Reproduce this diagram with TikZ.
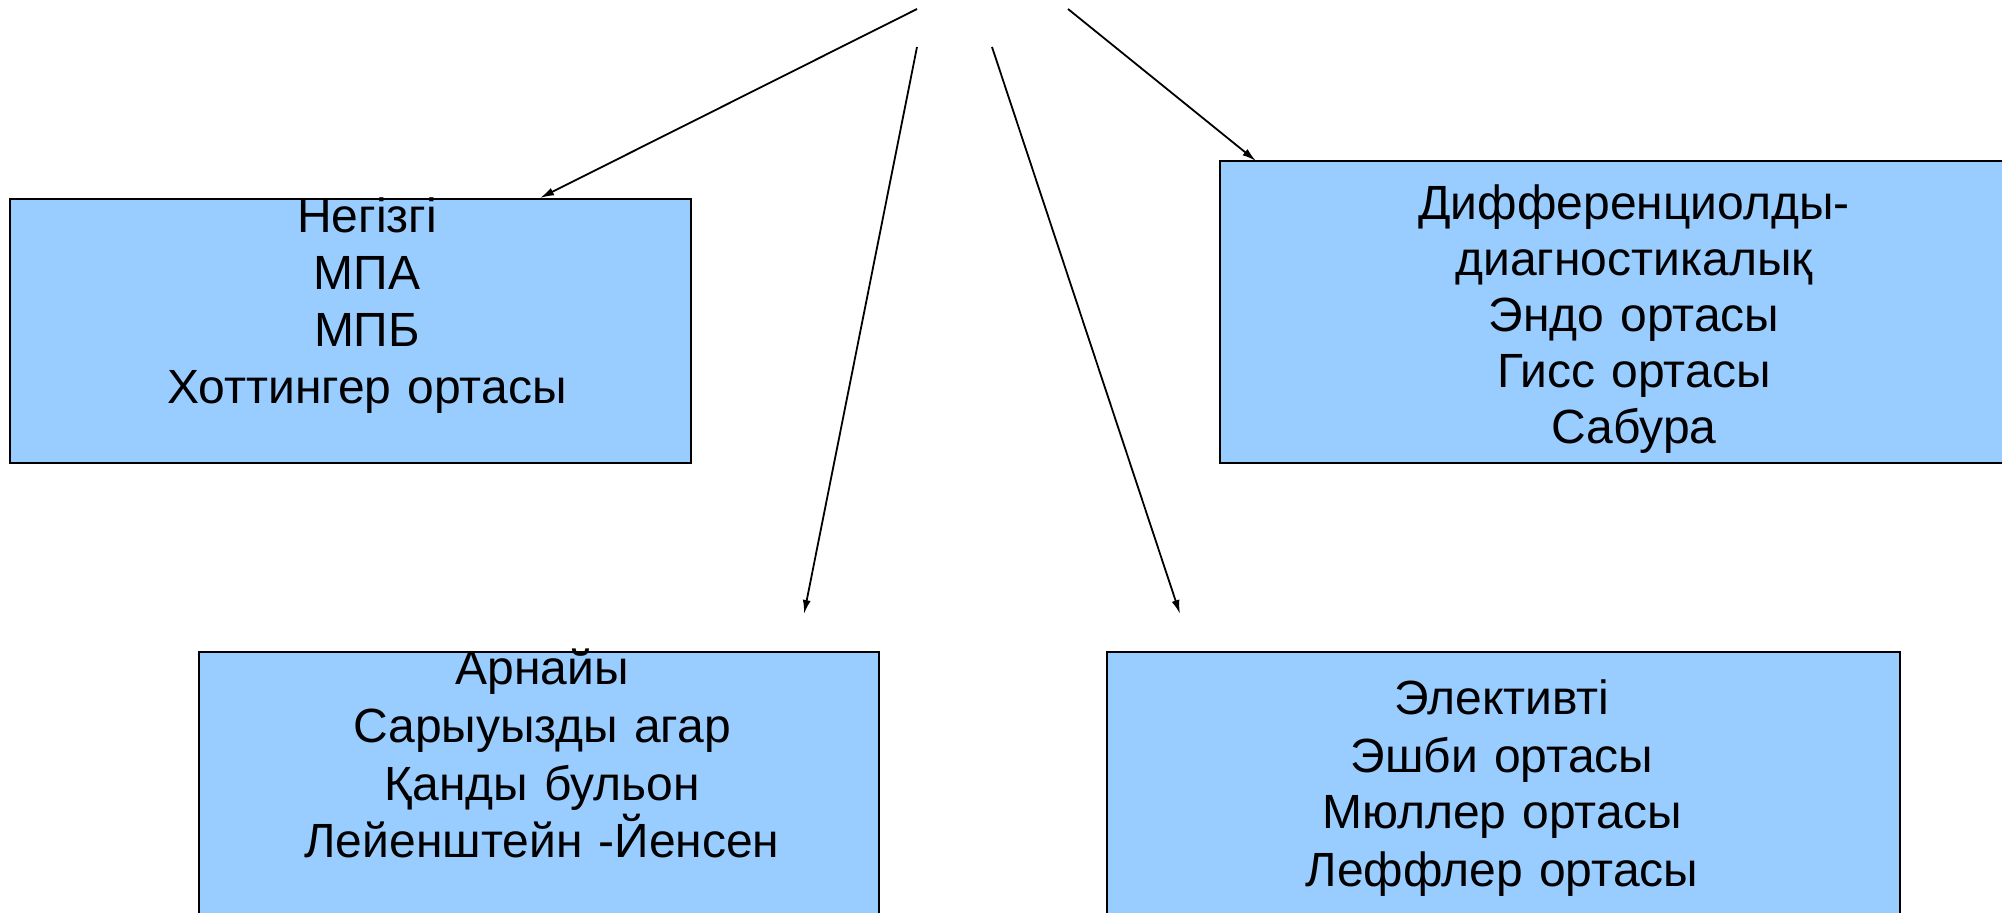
\documentclass[tikz,border=0pt]{standalone}
\usepackage{fontspec}
\setmainfont{Liberation Sans}
\usetikzlibrary{arrows.meta}
\definecolor{boxblue}{HTML}{99CCFF}
\tikzset{
  box/.style={draw=black, line width=1.2pt, fill=boxblue, rectangle, anchor=north west, inner sep=0pt},
  txt/.style={anchor=base, text width=440pt, align=center, inner sep=0pt, font=\fontsize{24}{28.5}\selectfont},
  arr/.style={draw=black, line width=0.9pt, -{Latex[length=7pt,width=4pt]}}
}
\begin{document}
\begin{tikzpicture}[x=0.5pt,y=-0.5pt]
\useasboundingbox (0,0) rectangle (2002,913);
\clip (0,0) rectangle (2002,913);
% boxes
\node[box, minimum width=340.5pt, minimum height=132pt] (b1) at (9,198) {};
\node[box, minimum width=415pt, minimum height=151pt] (b2) at (1219,160) {};
\node[box, minimum width=340pt, minimum height=145pt] (b3) at (198,651) {};
\node[box, minimum width=396.5pt, minimum height=145pt] (b4) at (1106,651) {};
% texts
\node[txt] (t1) at (367,233) {Негізгі\\МПА\\МПБ\\Хоттингер ортасы};
\node[txt, font=\fontsize{24}{28}\selectfont] (t2) at (1634,220) {Дифференциолды-\\диагностикалық\\Эндо ортасы\\Гисс ортасы\\Сабура};
\node[txt, font=\fontsize{24}{28.8}\selectfont] (t3) at (542,685) {Арнайы\\Сарыуызды агар\\Қанды бульон\\Лейенштейн -Йенсен};
\node[txt] (t4) at (1502,715) {Элективті\\Эшби ортасы\\Мюллер ортасы\\Леффлер ортасы};
% connector ends
\coordinate (s1) at (917,9);
\coordinate (s2) at (917,47);
\coordinate (s3) at (992,47);
\coordinate (s4) at (1068,9);
\coordinate (e1) at (540,198);
\coordinate (e2) at (804,614);
\coordinate (e3) at (1180,614);
\coordinate (e4) at (1256,161);
\draw[arr] (s1) -- (e1);
\draw[arr] (s2) -- (e2);
\draw[arr] (s3) -- (e3);
\draw[arr] (s4) -- (e4);
\end{tikzpicture}
\end{document}
